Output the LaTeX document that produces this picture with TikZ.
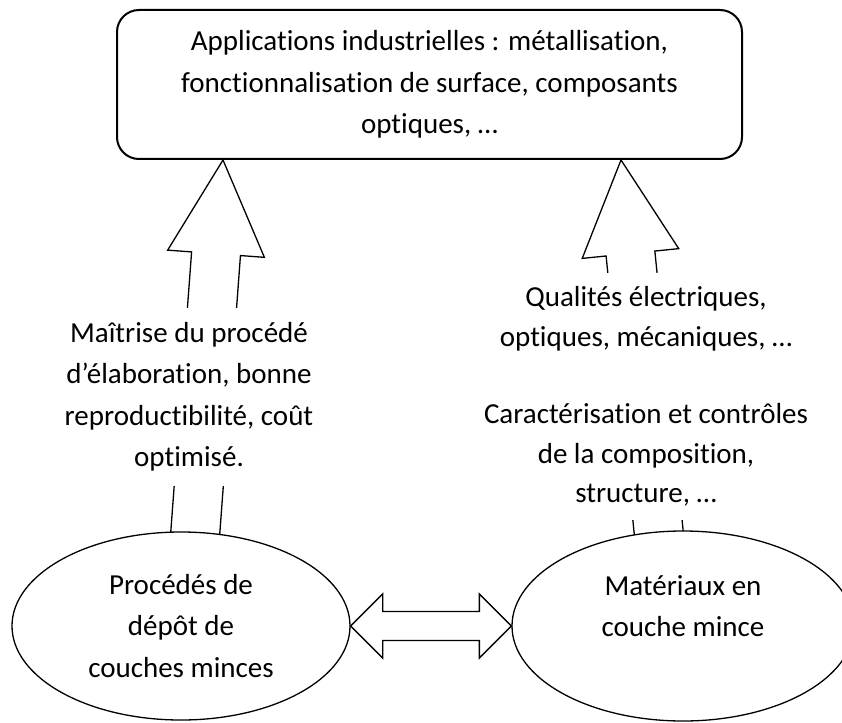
\documentclass[tikz,border=0pt]{standalone}
\usepackage{fontspec}
\setmainfont{Carlito}[Ligatures = NoCommon]
\usetikzlibrary{shapes.geometric,calc,backgrounds}

\begin{document}
\begin{tikzpicture}[
    x = 1pt, y = 1pt,
    every node/.style = {font = \fontsize{29}{41.5}\selectfont, align = center},
    appbox/.style = {draw, line width = 2pt, rounded corners = 22pt, fill = white,
      minimum width = 625pt, minimum height = 149pt},
    blob/.style = {draw, ellipse, line width = 1.3pt, fill = white, inner sep = 0pt},
    txt/.style = {fill = white, inner sep = 14pt},
    bigarrow/.style = {draw, line width = 1.3pt, fill = white},
  ]
  \useasboundingbox (0,0) rectangle (842,-722);

  \node[appbox] (apps) at (429.5,-84.5)
    {Applications industrielles : métallisation,\\ fonctionnalisation de surface, composants\\ optiques, …};

  \node[txt] (maitrise) at (189,-397)
    {Maîtrise du procédé\\ d’élaboration, bonne\\ reproductibilité, coût\\ optimisé.};
  \node[txt, font = \fontsize{29}{39.5}\selectfont] (qualites) at (646,-396.5)
    {Qualités électriques,\\ optiques, mécaniques, …\\[38pt] Caractérisation et contrôles\\ de la composition,\\ structure, …};

  \node[blob, minimum width = 338pt, minimum height = 188pt] (proc) at (181,-626)
    {Procédés de\\ dépôt de\\ couches minces};
  \node[blob, minimum width = 342pt, minimum height = 190pt] (mat) at (683,-626) {};
  \node (mattxt) at ([yshift = 20pt]mat.center) {Matériaux en\\ couche mince};

  % ends of the two big arrows
  \coordinate (tipL) at ([xshift = -206.5pt]apps.south);
  \coordinate (tipR) at ([xshift = 191.5pt]apps.south);
  \coordinate (tailL) at ([xshift = 14pt, yshift = -5pt]proc.north);
  \coordinate (tailR) at ([xshift = -24pt, yshift = -5pt]mat.north);

  \begin{scope}[on background layer]
    \foreach \from/\to in {tailL/tipL, tailR/tipR} {
      \coordinate (hb) at ($(\to)!94pt!(\from)$);
      \draw[bigarrow] ($(\from)!24.5pt!90:(\to)$) -- ($(hb)!24.5pt!90:(\to)$)
        -- ($(hb)!48.5pt!90:(\to)$) -- (\to) -- ($(hb)!48.5pt!-90:(\to)$)
        -- ($(hb)!24.5pt!-90:(\to)$) -- ($(\from)!24.5pt!-90:(\to)$) -- cycle;
    }
  \end{scope}

  % double arrow between the ellipses
  \draw[bigarrow] (proc.east) -- ++(32,32) -- ++(0,-17.5)
    -- ($(mat.west)+(-32,14.5)$) -- ++(0,17.5) -- (mat.west) -- ++(-32,-32)
    -- ++(0,17.5) -- ($(proc.east)+(32,-14.5)$) -- ++(0,-17.5) -- cycle;
\end{tikzpicture}
\end{document}
